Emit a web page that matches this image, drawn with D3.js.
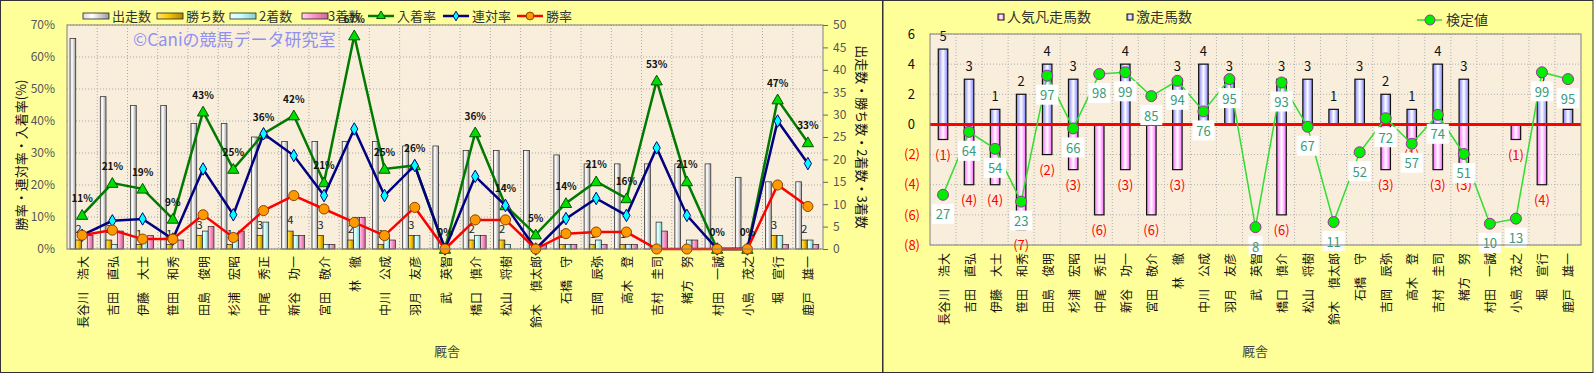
<!DOCTYPE html>
<html><head><meta charset="utf-8">
<script src="https://cdn.jsdelivr.net/npm/d3@7"></script>
<style>
body{margin:0;background:#fff}
svg{display:block}
text{font-family:"Noto Sans CJK JP","Noto Sans",sans-serif}
</style>
</head><body>
<svg id="c" width="1594" height="375"></svg>
<script>
// ---------- data ----------
const trainers = ["長谷川　浩大","吉田　直弘","伊藤　大士","笹田　和秀","田島　俊明","杉浦　宏昭","中尾　秀正","新谷　功一","宮田　敬介","林　徹","中川　公成","羽月　友彦","武　英智","橋口　慎介","松山　将樹","鈴木　慎太郎","石橋　守","吉岡　辰弥","高木　登","吉村　圭司","緒方　努","村田　一誠","小島　茂之","堀　宣行","鹿戸　雄一"];
const starts  = [47,34,32,32,28,28,25,24,24,24,24,23,23,22,22,22,21,19,19,19,19,19,16,15,15];
const wins    = [2,2,1,1,3,1,3,4,3,2,1,3,0,2,2,0,1,1,1,0,0,0,0,3,2];
const seconds = [0,1,2,0,4,2,6,3,1,7,3,3,0,3,1,0,1,2,1,6,2,0,0,3,2];
const thirds  = [3,4,3,2,5,4,0,3,1,7,2,0,0,3,0,1,1,1,1,4,2,0,0,1,1];
const placeRate  = [10.6,20.6,18.8,9.4,42.9,25.0,36.0,41.7,20.8,66.7,25.0,26.1,0,36.4,13.6,4.5,14.3,21.1,15.8,52.6,21.1,0,0,46.7,33.3];
const rentaiRate = [4.3,8.8,9.4,3.1,25.0,10.7,36.0,29.2,16.7,37.5,16.7,26.1,0,22.7,13.6,0,9.5,15.8,10.5,31.6,10.5,0,0,40.0,26.7];
const winRate    = [4.3,5.9,3.1,3.1,10.7,3.6,12.0,16.7,12.5,8.3,4.2,13.0,0,9.1,9.1,0,4.8,5.3,5.3,0,0,0,0,20.0,13.3];
const pctTicks = [0,10,20,30,40,50,60,70];
const countTicks = [0,5,10,15,20,25,30,35,40,45,50];

const gekisou = [5,3,1,2,4,3,0,4,0,3,4,3,0,3,3,1,3,2,1,4,3,0,0,2,1];
const bonsou  = [-1,-4,-4,-7,-2,-3,-6,-3,-6,-3,0,0,0,-6,0,0,0,-3,-1,-3,-3,0,-1,-4,0];
const kentei  = [27,64,54,23,97,66,98,99,85,94,76,95,8,93,67,11,52,72,57,74,51,10,13,99,95];
const rightTicks = [6,4,2,0,-2,-4,-6,-8];

// ---------- setup ----------
const svg = d3.select("#c");
const defs = svg.append("defs");
function grad(id, stops){
  const g = defs.append("linearGradient").attr("id",id).attr("x1","0").attr("x2","1").attr("y1","0").attr("y2","0");
  stops.forEach(s=>g.append("stop").attr("offset",s[0]).attr("stop-color",s[1]));
}
grad("gWhite",[[0,"#d8d8d8"],[0.35,"#ffffff"],[1,"#9a9a9a"]]);
grad("gGold",[[0,"#ffe680"],[0.4,"#ffcc00"],[1,"#b38600"]]);
grad("gCyan",[[0,"#eaffff"],[0.4,"#ccffff"],[1,"#88cccc"]]);
grad("gPink",[[0,"#ffd6ee"],[0.4,"#ff99cc"],[1,"#cc6699"]]);
grad("gBlue",[[0,"#8080ff"],[0.5,"#ffffff"],[1,"#8080ff"]]);
grad("gMag",[[0,"#ff66ff"],[0.5,"#ffffff"],[1,"#ff66ff"]]);

// panels
svg.append("rect").attr("x",0.5).attr("y",0.5).attr("width",882).attr("height",372).attr("fill","#ffff99").attr("stroke","#333");
svg.append("rect").attr("x",883).attr("y",0.5).attr("width",710).attr("height",372).attr("fill","#ffff99").attr("stroke","#333");

// ---------- LEFT CHART ----------
const L = {x0:67,x1:823,y0:25,y1:249};
const x0 = d3.scaleBand().domain(trainers).range([L.x0,L.x1]);
const keys = ["s","w","2","3"];
const x1 = d3.scaleBand().domain(keys).range([x0.bandwidth()*0.1, x0.bandwidth()*0.86]);
const yPct = d3.scaleLinear().domain([0,70]).range([L.y1,L.y0]);
const yCnt = d3.scaleLinear().domain([0,50]).range([L.y1,L.y0]);
const cx = n => x0(n)+x0.bandwidth()/2;

const gl = svg.append("g");
gl.append("rect").attr("x",L.x0).attr("y",L.y0).attr("width",L.x1-L.x0).attr("height",L.y1-L.y0).attr("fill","#f8eedb");
gl.selectAll(".hg").data(pctTicks).enter().append("line")
  .attr("x1",L.x0).attr("x2",L.x1).attr("y1",d=>yPct(d)).attr("y2",d=>yPct(d))
  .attr("stroke","#a8a8a8").attr("stroke-dasharray","1,2");
gl.selectAll(".vg").data(trainers.slice(1)).enter().append("line")
  .attr("x1",d=>x0(d)).attr("x2",d=>x0(d)).attr("y1",L.y0).attr("y2",L.y1)
  .attr("stroke","#a8a8a8").attr("stroke-dasharray","1,2");

// watermark
gl.append("text").attr("x",133).attr("y",46).attr("font-size",17).attr("fill","#9090f0").text("©Caniの競馬データ研究室");

// bars
const barSeries = [
  {k:"s",vals:starts,fill:"url(#gWhite)"},
  {k:"w",vals:wins,fill:"url(#gGold)"},
  {k:"2",vals:seconds,fill:"url(#gCyan)"},
  {k:"3",vals:thirds,fill:"url(#gPink)"}
];
barSeries.forEach(s=>{
  gl.selectAll(null).data(trainers).enter().filter((d,i)=>s.vals[i]>0).append("rect")
    .attr("x",d=>x0(d)+x1(s.k)).attr("width",x1.bandwidth())
    .attr("y",d=>yCnt(s.vals[trainers.indexOf(d)]))
    .attr("height",d=>yCnt(0)-yCnt(s.vals[trainers.indexOf(d)]))
    .attr("fill",s.fill).attr("stroke","#222").attr("stroke-width",0.7);
});
// win count labels
gl.selectAll(null).data(trainers).enter().filter((d,i)=>wins[i]>0).append("text")
  .attr("x",d=>x0(d)+x1("w")+x1.bandwidth()/2).attr("y",d=>yCnt(wins[trainers.indexOf(d)])-7)
  .attr("text-anchor","middle").attr("font-size",11).attr("fill","#222")
  .text(d=>wins[trainers.indexOf(d)]);

// lines
const lineSeries = [
  {vals:placeRate,color:"#007a00",sym:d3.symbolTriangle,size:55,fill:"#00dd00",stroke:"#005500"},
  {vals:rentaiRate,color:"#000080",sym:d3.symbolDiamond,size:45,fill:"#00ffff",stroke:"#000080"},
  {vals:winRate,color:"#ff0000",sym:d3.symbolCircle,size:80,fill:"#ff9900",stroke:"#884400"}
];
lineSeries.forEach(s=>{
  const line = d3.line().x((d,i)=>cx(trainers[i])).y(d=>yPct(d));
  gl.append("path").datum(s.vals).attr("d",line).attr("fill","none").attr("stroke",s.color).attr("stroke-width",2.5);
  gl.selectAll(null).data(s.vals).enter().append("path")
    .attr("d",d3.symbol(s.sym,s.size)())
    .attr("transform",(d,i)=>`translate(${cx(trainers[i])},${yPct(d)+(s.sym===d3.symbolTriangle?1:0)})`)
    .attr("fill",s.fill).attr("stroke",s.stroke).attr("stroke-width",1);
});
// place rate labels
gl.selectAll(null).data(placeRate).enter().append("text")
  .attr("x",(d,i)=>cx(trainers[i])).attr("y",d=>yPct(d)-13)
  .attr("text-anchor","middle").attr("font-size",10).attr("font-weight","bold").attr("fill","#111")
  .text(d=>Math.round(d)+"%");

gl.append("rect").attr("x",L.x0).attr("y",L.y0).attr("width",L.x1-L.x0).attr("height",L.y1-L.y0).attr("fill","none").attr("stroke","#808080");

// axes
const axL = gl.append("g").attr("transform",`translate(${L.x0},0)`)
  .call(d3.axisLeft(yPct).tickValues(pctTicks).tickFormat(d=>d+"%").tickSize(0).tickPadding(12));
axL.select(".domain").remove();
axL.selectAll("text").attr("font-size",12).attr("fill","#555").style("font-family","'Noto Sans CJK JP',sans-serif");
const axR = gl.append("g").attr("transform",`translate(${L.x1},0)`)
  .call(d3.axisRight(yCnt).tickValues(countTicks).tickSize(5).tickPadding(5));
axR.select(".domain").remove();
axR.selectAll("line").attr("stroke","#666");
axR.selectAll("text").attr("font-size",12).attr("fill","#555").style("font-family","'Noto Sans CJK JP',sans-serif");

// category labels
gl.selectAll(null).data(trainers).enter().append("text")
  .attr("transform",d=>`translate(${cx(d)},256) rotate(-90)`)
  .attr("text-anchor","end").attr("dominant-baseline","central").attr("font-size",12).attr("fill","#111")
  .text(d=>d);
gl.append("text").attr("x",447).attr("y",356).attr("text-anchor","middle").attr("font-size",13).attr("fill","#444").text("厩舎");
gl.append("text").attr("transform","translate(20,155) rotate(-90)").attr("text-anchor","middle").attr("dominant-baseline","central")
  .attr("font-size",13).attr("fill","#111").text("勝率・連対率・入着率(%)");
gl.append("text").attr("transform","translate(862,137) rotate(90)").attr("text-anchor","middle").attr("dominant-baseline","central")
  .attr("font-size",13).attr("fill","#111").text("出走数・勝ち数・2着数・3着数");

// legend left
const legBars = [
  {t:"出走数",f:"url(#gWhite)",x:83,tx:112},
  {t:"勝ち数",f:"url(#gGold)",x:157,tx:186},
  {t:"2着数",f:"url(#gCyan)",x:230,tx:259},
  {t:"3着数",f:"url(#gPink)",x:302,tx:328}
];
legBars.forEach(b=>{
  gl.append("rect").attr("x",b.x).attr("y",13).attr("width",26).attr("height",6).attr("fill",b.f).attr("stroke","#222").attr("stroke-width",0.8);
  gl.append("text").attr("x",b.tx).attr("y",21).attr("font-size",13).attr("fill","#333").text(b.t);
});
const legLines = [
  {t:"入着率",s:lineSeries[0],x:368,tx:397},
  {t:"連対率",s:lineSeries[1],x:443,tx:472},
  {t:"勝率",s:lineSeries[2],x:517,tx:546}
];
legLines.forEach(b=>{
  gl.append("line").attr("x1",b.x).attr("x2",b.x+26).attr("y1",16).attr("y2",16).attr("stroke",b.s.color).attr("stroke-width",2.5);
  gl.append("path").attr("d",d3.symbol(b.s.sym,b.s.size*0.6)()).attr("transform",`translate(${b.x+13},16)`)
    .attr("fill",b.s.fill).attr("stroke",b.s.stroke);
  gl.append("text").attr("x",b.tx).attr("y",21).attr("font-size",13).attr("fill","#333").text(b.t);
});

// ---------- RIGHT CHART ----------
const R = {x0:930,x1:1581,y0:34,y1:245};
const xR = d3.scaleBand().domain(trainers).range([R.x0,R.x1]);
const yR = d3.scaleLinear().domain([-8,6]).range([R.y1,R.y0]);
const yK = d3.scaleLinear().domain([-2.5,121.5]).range([R.y1,R.y0]);
const cxR = n => xR(n)+xR.bandwidth()/2;
const bw = 9.5;
const gr = svg.append("g");
gr.append("rect").attr("x",R.x0).attr("y",R.y0).attr("width",R.x1-R.x0).attr("height",R.y1-R.y0).attr("fill","#f8eedb");
gr.selectAll(null).data(rightTicks).enter().append("line")
  .attr("x1",R.x0).attr("x2",R.x1).attr("y1",d=>yR(d)).attr("y2",d=>yR(d))
  .attr("stroke","#b0b0b0").attr("stroke-dasharray","1,2");
gr.selectAll(null).data(trainers.slice(1)).enter().append("line")
  .attr("x1",d=>xR(d)).attr("x2",d=>xR(d)).attr("y1",R.y0).attr("y2",R.y1)
  .attr("stroke","#b0b0b0").attr("stroke-dasharray","1,2");

// bars
gr.selectAll(null).data(trainers).enter().filter((d,i)=>bonsou[i]<0).append("rect")
  .attr("x",d=>cxR(d)-bw/2).attr("width",bw)
  .attr("y",yR(0)).attr("height",d=>yR(bonsou[trainers.indexOf(d)])-yR(0))
  .attr("fill","url(#gMag)").attr("stroke","#111").attr("stroke-width",1.2);
gr.selectAll(null).data(trainers).enter().filter((d,i)=>gekisou[i]>0).append("rect")
  .attr("x",d=>cxR(d)-bw/2).attr("width",bw)
  .attr("y",d=>yR(gekisou[trainers.indexOf(d)])).attr("height",d=>yR(0)-yR(gekisou[trainers.indexOf(d)]))
  .attr("fill","url(#gBlue)").attr("stroke","#111").attr("stroke-width",1.2);
// bar labels
gr.selectAll(null).data(trainers).enter().filter((d,i)=>gekisou[i]>0).append("text")
  .attr("x",d=>cxR(d)).attr("y",d=>yR(gekisou[trainers.indexOf(d)])-8)
  .attr("text-anchor","middle").attr("font-size",13).attr("fill","#111")
  .text(d=>gekisou[trainers.indexOf(d)]);
gr.selectAll(null).data(trainers).enter().filter((d,i)=>bonsou[i]<0).append("text")
  .attr("x",d=>cxR(d)).attr("y",d=>yR(bonsou[trainers.indexOf(d)])+20)
  .attr("text-anchor","middle").attr("font-size",13).attr("fill","#ff0000")
  .text(d=>"("+(-bonsou[trainers.indexOf(d)])+")");
// zero line
gr.append("line").attr("x1",R.x0).attr("x2",R.x1).attr("y1",yR(0)).attr("y2",yR(0)).attr("stroke","#ff0000").attr("stroke-width",3);
// kentei line
const kLine = d3.line().x((d,i)=>cxR(trainers[i])).y(d=>yK(d));
gr.append("path").datum(kentei).attr("d",kLine).attr("fill","none").attr("stroke","#33dd33").attr("stroke-width",1.5);
gr.selectAll(null).data(kentei).enter().append("circle")
  .attr("cx",(d,i)=>cxR(trainers[i])).attr("cy",d=>yK(d)).attr("r",5.5)
  .attr("fill","#00ee00").attr("stroke","#993399").attr("stroke-width",1);
const kl = gr.selectAll(null).data(kentei).enter().append("g")
  .attr("transform",(d,i)=>`translate(${cxR(trainers[i])},${yK(d)+19})`);
kl.append("rect").attr("x",d=>String(d).length>1?-11:-7).attr("y",-10).attr("width",d=>String(d).length>1?22:14).attr("height",20).attr("fill","#ffffff");
kl.append("text").attr("text-anchor","middle").attr("dominant-baseline","central").attr("font-size",13).attr("fill","#3a9a7a").text(d=>d);

gr.append("rect").attr("x",R.x0).attr("y",R.y0).attr("width",R.x1-R.x0).attr("height",R.y1-R.y0).attr("fill","none").attr("stroke","#808080");

// y axis labels
const axRR = gr.append("g").attr("transform",`translate(${R.x0},0)`)
  .call(d3.axisLeft(yR).tickValues(rightTicks).tickFormat(d=>d<0?"("+(-d)+")":d).tickSize(0).tickPadding(10));
axRR.select(".domain").remove();
axRR.selectAll("text").attr("font-size",13).style("font-family","'Noto Sans CJK JP',sans-serif")
  .attr("fill",d=>d<0?"#ff0000":"#111").attr("dx",d=>d<0?0:-5);

// category labels
gr.selectAll(null).data(trainers).enter().append("text")
  .attr("transform",d=>`translate(${cxR(d)},253) rotate(-90)`)
  .attr("text-anchor","end").attr("dominant-baseline","central").attr("font-size",12).attr("fill","#111")
  .text(d=>d);
gr.append("text").attr("x",1255).attr("y",356).attr("text-anchor","middle").attr("font-size",13).attr("fill","#444").text("厩舎");

// legend right
gr.append("rect").attr("x",998).attr("y",14).attr("width",6).attr("height",6).attr("fill","url(#gMag)").attr("stroke","#111");
gr.append("text").attr("x",1007).attr("y",22).attr("font-size",14).attr("fill","#333").text("人気凡走馬数");
gr.append("rect").attr("x",1127).attr("y",14).attr("width",6).attr("height",6).attr("fill","url(#gBlue)").attr("stroke","#111");
gr.append("text").attr("x",1136).attr("y",22).attr("font-size",14).attr("fill","#333").text("激走馬数");
gr.append("line").attr("x1",1417).attr("x2",1442).attr("y1",20).attr("y2",20).attr("stroke","#33dd33").attr("stroke-width",1.5);
gr.append("circle").attr("cx",1430).attr("cy",20).attr("r",5).attr("fill","#00ee00").attr("stroke","#993399");
gr.append("text").attr("x",1446).attr("y",25).attr("font-size",14).attr("fill","#333").text("検定値");
</script>
</body></html>
